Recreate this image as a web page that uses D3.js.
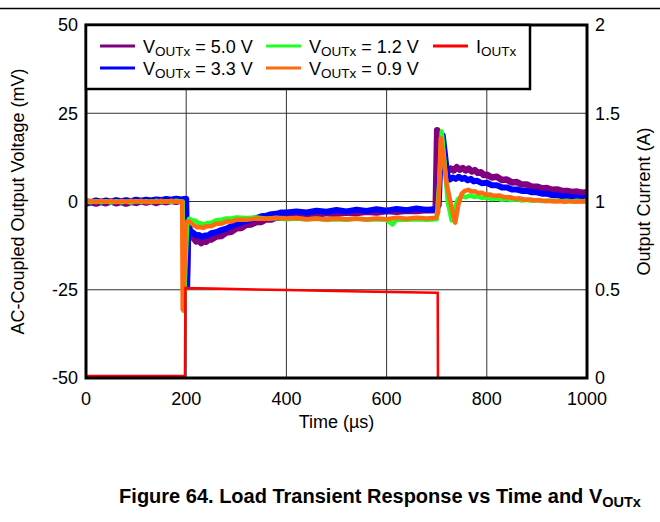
<!DOCTYPE html>
<html>
<head>
<meta charset="utf-8">
<script src="https://cdn.jsdelivr.net/npm/d3@7"></script>
<style>
  body { margin: 0; background: #fff; }
  svg { display: block; font-family: Arial, "Liberation Sans", sans-serif; }
</style>
</head>
<body>
<div id="chart"></div>
<script>
// axis ticks
var timeTicks = [0, 200, 400, 600, 800, 1000];
var voltTicks = [-50, -25, 0, 25, 50];
var currTicks = [0, 0.5, 1, 1.5, 2];

// [time (us), AC-coupled voltage (mV)]
var vout50 = [[0,-0.6],[10,-0.2],[20,-0.6],[30,-0.1],[40,-0.5],[50,0.0],[60,-0.5],[70,-0.1],[80,-0.6],[90,-0.1],[100,-0.4],[110,0.1],[120,-0.3],[130,0.1],[140,-0.4],[150,0.1],[160,-0.2],[170,0.2],[180,-0.1],[190,0.3],[199,0.2],
  [201,-22],[204,-8],[210,-9.6],[215,-10.4],[220,-11.3],[225,-11.0],[230,-11.8],[235,-11.3],[240,-11.4],[245,-10.7],[250,-10.8],[260,-9.9],[270,-9.8],[280,-8.8],[290,-8.6],[300,-7.6],[310,-7.5],[320,-6.6],[330,-6.5],[340,-5.8],[350,-5.8],[360,-5.0],[370,-5.1],[380,-4.5],[390,-4.6],[400,-4.0],
  [420,-4.0],[440,-3.6],[460,-3.8],[480,-3.3],[500,-3.5],[520,-3.1],[540,-3.3],[560,-2.9],[580,-3.1],[600,-2.7],[620,-2.9],[640,-2.6],[660,-2.7],[680,-2.4],[698,-2.5],
  [701,20.2],[704,19.0],[710,13],[716,9.6],[722,8.6],[728,9.3],[734,8.8],[740,9.7],[746,9.0],[752,9.5],[758,8.8],[764,9.3],[770,8.5],[776,8.9],[782,8.1],[788,8.3],[794,7.5],[800,7.6],[810,6.8],[820,7.0],[830,6.1],[840,6.2],[850,5.4],[860,5.5],[870,4.8],[880,4.8],[890,4.2],[900,4.2],[910,3.7],[920,3.8],[930,3.3],[940,3.4],[950,3.0],[960,3.0],[970,2.7],[980,2.8],[990,2.5],[1000,2.6]];

var vout33 = [[0,0.1],[10,-0.2],[20,0.3],[30,-0.1],[40,0.3],[50,-0.1],[60,0.4],[70,0.1],[80,0.4],[90,0.1],[100,0.5],[110,0.2],[120,0.5],[130,0.3],[140,0.6],[150,0.4],[160,0.7],[170,0.5],[180,0.8],[190,0.6],[200,0.8],
  [202,-24],[204,-6],[208,-8.2],[214,-8.9],[220,-9.6],[226,-9.5],[232,-10.0],[238,-9.6],[244,-9.6],[250,-9.0],[260,-8.7],[270,-8.1],[280,-7.7],[290,-7.0],[300,-6.5],[310,-5.9],[320,-5.5],[330,-5.0],[340,-4.7],[350,-4.2],[360,-4.0],[370,-3.6],[380,-3.5],[390,-3.1],[400,-3.1],
  [420,-2.8],[440,-3.1],[460,-2.6],[480,-2.9],[500,-2.4],[520,-2.8],[540,-2.3],[560,-2.7],[580,-2.2],[600,-2.6],[620,-2.1],[640,-2.5],[660,-2.0],[680,-2.4],[700,-2.1],
  [704,-1.0],[708,14],[712,18.8],[716,14],[721,7.6],[726,6.2],[732,6.8],[738,6.4],[744,7.0],[750,6.4],[756,6.7],[762,6.0],[768,6.4],[774,5.7],[780,5.9],[790,5.2],[800,5.3],[810,4.6],[820,4.6],[830,4.0],[840,4.0],[850,3.4],[860,3.4],[870,3.0],[880,3.0],[890,2.6],[900,2.6],[910,2.2],[920,2.2],[930,1.8],[940,1.8],[950,1.5],[960,1.5],[970,1.2],[980,1.2],[990,1.0],[1000,1.0]];

var vout12 = [[0,0.0],[10,-0.2],[20,0.1],[30,-0.2],[40,0.1],[50,-0.3],[60,0.1],[70,-0.2],[80,0.0],[90,-0.3],[100,0.1],[110,-0.1],[120,0.1],[130,-0.2],[140,0.2],[150,-0.1],[160,0.1],[170,-0.1],[180,0.2],[190,0.0],[193,0.0],
  [195,-31],[198,-20],[202,-6],[206,-4.9],[212,-5.4],[218,-5.4],[224,-6.1],[230,-6.2],[236,-6.5],[242,-6.1],[250,-6.0],[260,-5.3],[270,-5.2],[280,-4.8],[290,-4.8],[300,-4.5],[320,-4.7],[340,-4.5],[360,-4.9],[380,-4.7],[400,-5.0],
  [420,-4.8],[440,-5.1],[460,-4.9],[480,-5.2],[500,-5.0],[520,-5.2],[540,-4.9],[560,-5.2],[580,-5.0],[600,-5.2],[612,-6.5],[620,-5.1],[640,-5.2],[660,-5.0],[680,-5.2],[700,-5.0],
  [705,5],[710,19.8],[715,12],[722,0],[730,-5.4],[736,-2],[742,0.6],[750,1.6],[758,1.2],[766,1.7],[774,1.3],[782,1.5],[790,1.0],[800,1.2],[810,0.7],[820,0.9],[830,0.5],[840,0.7],[850,0.4],[860,0.6],[870,0.3],[880,0.5],[890,0.2],[900,0.4],[910,0.1],[920,0.3],[930,0.1],[940,0.3],[950,0.1],[960,0.2],[970,0.0],[980,0.2],[990,0.1],[1000,0.2]];

var vout09 = [[0,0.0],[10,0.2],[20,-0.2],[30,0.2],[40,-0.1],[50,0.2],[60,-0.2],[70,0.2],[80,-0.1],[90,0.2],[100,-0.1],[110,0.2],[120,-0.2],[130,0.1],[140,-0.1],[150,0.2],[160,-0.1],[170,0.2],[180,-0.1],[190,0.1],[192,0.0],
  [193,-30.6],[196,-22],[199,-6],[205,-5.6],[210,-6.2],[216,-6.8],[222,-7.3],[228,-7.2],[234,-7.5],[240,-7.0],[250,-7.0],[260,-6.3],[270,-6.3],[280,-5.7],[290,-5.7],[300,-5.2],[320,-5.2],[340,-4.8],[360,-4.9],[380,-4.6],[400,-4.8],
  [420,-4.7],[440,-5.0],[460,-4.8],[480,-5.1],[500,-4.8],[520,-5.0],[540,-4.8],[560,-5.1],[580,-4.8],[600,-5.0],[620,-4.6],[640,-4.9],[660,-4.6],[680,-4.8],[699,-4.6],
  [703,-3],[708,18],[712,14],[720,5],[730,-2],[737,-6],[743,-1],[750,2.2],[756,3.0],[763,3.3],[770,2.8],[776,2.9],[782,2.4],[790,2.5],[798,1.9],[806,2.0],[814,1.6],[826,1.7],[836,1.2],[846,1.2],[856,0.8],[866,0.9],[876,0.5],[886,0.6],[896,0.3],[906,0.4],[916,0.1],[926,0.2],[936,0.0],[946,0.1],[956,-0.1],[966,0.1],[976,-0.1],[986,0.0],[1000,0.0]];

// [time (us), output current (A)]
var iout = [[0,0.012],[197.5,0.012],[198.5,0.51],[250,0.507],[400,0.498],[550,0.49],[700,0.483],[702,0.483],[702.5,-0.01],[1000,-0.01]];

var series = [
  { data: vout50, color: "#800080", width: 6.5 },
  { data: vout33, color: "#0000ff", width: 6 },
  { data: vout12, color: "#22ff22", width: 4.5 },
  { data: vout09, color: "#ff6a10", width: 4.5 }
];

var W = 660, H = 522;
var margin = {top: 25, right: 73, bottom: 144, left: 86},
    width = W - margin.left - margin.right,
    height = H - margin.top - margin.bottom;

var x = d3.scaleLinear().domain([0, 1000]).range([0, width]);
var y = d3.scaleLinear().domain([-50, 50]).range([height, 0]);
var y2 = d3.scaleLinear().domain([0, 2]).range([height, 0]);

var svg = d3.select("#chart").append("svg")
    .attr("width", W)
    .attr("height", H);

// rule at the very top
svg.append("line")
    .attr("x1", 0).attr("x2", W)
    .attr("y1", 8.5).attr("y2", 8.5)
    .attr("stroke", "#000").attr("stroke-width", 1.5);

var g = svg.append("g")
    .attr("transform", "translate(" + margin.left + "," + margin.top + ")");

g.append("clipPath").attr("id", "clip")
  .append("rect").attr("width", width).attr("height", height);

// grid
g.append("g").selectAll("line")
    .data(timeTicks.slice(1, -1))
    .enter().append("line")
    .attr("x1", function(d) { return x(d); }).attr("x2", function(d) { return x(d); })
    .attr("y1", 0).attr("y2", height)
    .attr("stroke", "#333").attr("stroke-width", 1);
g.append("g").selectAll("line")
    .data(voltTicks.slice(1, -1))
    .enter().append("line")
    .attr("y1", function(d) { return y(d); }).attr("y2", function(d) { return y(d); })
    .attr("x1", 0).attr("x2", width)
    .attr("stroke", "#333").attr("stroke-width", 1);

var vline = d3.line()
    .x(function(d) { return x(d[0]); })
    .y(function(d) { return y(d[1]); });
var iline = d3.line()
    .x(function(d) { return x(d[0]); })
    .y(function(d) { return y2(d[1]); });

var traces = g.append("g").attr("clip-path", "url(#clip)");
series.forEach(function(s) {
  traces.append("path")
      .attr("d", vline(s.data))
      .attr("fill", "none")
      .attr("stroke", s.color)
      .attr("stroke-width", s.width)
      .attr("stroke-linejoin", "round");
});
traces.append("path")
    .attr("d", iline(iout))
    .attr("fill", "none")
    .attr("stroke", "#ff0000")
    .attr("stroke-width", 2.5);

// frame
g.append("rect")
    .attr("width", width).attr("height", height)
    .attr("fill", "none").attr("stroke", "#000").attr("stroke-width", 3);

// axes (labels only, the frame draws the lines)
var fs = 18;
g.append("g").selectAll("text")
    .data(voltTicks).enter().append("text")
    .attr("x", -8).attr("y", function(d) { return y(d); })
    .attr("dy", "0.35em").attr("text-anchor", "end")
    .attr("font-size", fs)
    .text(function(d) { return d; });
g.append("g").selectAll("text")
    .data(currTicks).enter().append("text")
    .attr("x", width + 8).attr("y", function(d) { return y2(d); })
    .attr("dy", "0.35em").attr("text-anchor", "start")
    .attr("font-size", fs)
    .text(function(d) { return d; });
g.append("g").selectAll("text")
    .data(timeTicks).enter().append("text")
    .attr("x", function(d) { return x(d); }).attr("y", height + 27)
    .attr("text-anchor", "middle")
    .attr("font-size", fs)
    .text(function(d) { return d; });

g.append("text")
    .attr("x", width / 2).attr("y", height + 50)
    .attr("text-anchor", "middle").attr("font-size", fs)
    .text("Time (\u00b5s)");
g.append("text")
    .attr("transform", "translate(" + (-62) + "," + (height / 2) + ") rotate(-90)")
    .attr("text-anchor", "middle").attr("font-size", fs)
    .text("AC-Coupled Output Voltage (mV)");
g.append("text")
    .attr("transform", "translate(" + (width + 63) + "," + (height / 2) + ") rotate(-90)")
    .attr("text-anchor", "middle").attr("font-size", fs)
    .text("Output Current (A)");

// legend
var legendItems = [
  { v: " = 5.0 V", color: "#800080", col: 0, row: 0 },
  { v: " = 3.3 V", color: "#0000ff", col: 0, row: 1 },
  { v: " = 1.2 V", color: "#22ff22", col: 1, row: 0 },
  { v: " = 0.9 V", color: "#ff6a10", col: 1, row: 1 },
  { v: "", color: "#ff0000", col: 2, row: 0, main: "I" }
];
var colX = [14, 180, 347];
var lg = g.append("g");
lg.append("rect")
    .attr("x", 0).attr("y", 0).attr("width", 444).attr("height", 64)
    .attr("fill", "#fff").attr("stroke", "#000").attr("stroke-width", 2.5);
legendItems.forEach(function(it) {
  var lx = colX[it.col], ly = 21 + it.row * 22;
  lg.append("line")
      .attr("x1", lx).attr("x2", lx + 35)
      .attr("y1", ly).attr("y2", ly)
      .attr("stroke", it.color).attr("stroke-width", 3);
  var t = lg.append("text")
      .attr("x", lx + 43).attr("y", ly + 7)
      .attr("font-size", fs);
  t.append("tspan").text(it.main || "V");
  t.append("tspan").attr("font-size", 13.5).attr("dy", 3).text("OUTx");
  t.append("tspan").attr("dy", -3).text(it.v);
});

// caption
var cap = svg.append("text")
    .attr("x", 380).attr("y", 503)
    .attr("text-anchor", "middle")
    .attr("font-size", 20).attr("font-weight", "bold");
cap.append("tspan").text("Figure 64. Load Transient Response vs Time and V");
cap.append("tspan").attr("font-size", 14.5).attr("dy", 4).text("OUTx");
</script>
</body>
</html>
